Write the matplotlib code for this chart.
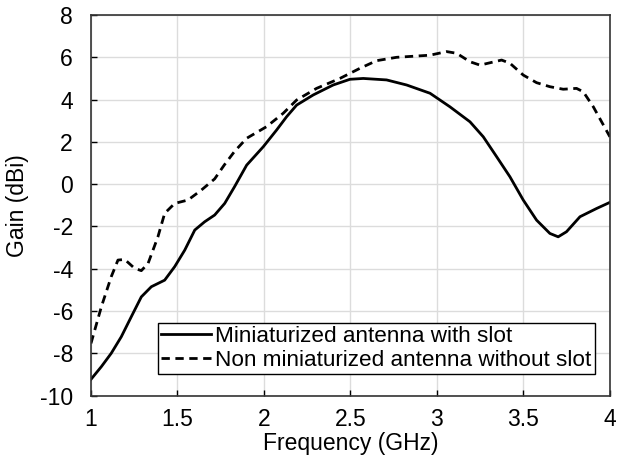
import numpy as np
import matplotlib.pyplot as plt

plt.rcParams['font.family'] = ['Liberation Sans', 'DejaVu Sans']
plt.rcParams['axes.unicode_minus'] = False

# solid: miniaturized antenna with slot
freq_slot = [1.0, 1.06, 1.117, 1.175, 1.233, 1.291, 1.349, 1.426, 1.484, 1.542, 1.6,
             1.657, 1.715, 1.773, 1.83, 1.9, 1.996, 2.073, 2.131, 2.189, 2.285, 2.4,
             2.497, 2.574, 2.709, 2.825, 2.96, 3.075, 3.191, 3.268, 3.345, 3.422,
             3.499, 3.576, 3.653, 3.701, 3.749, 3.827, 3.923, 4.0]
gain_slot = [-9.23, -8.63, -8.0, -7.22, -6.27, -5.33, -4.85, -4.54, -3.9, -3.12, -2.17,
             -1.78, -1.46, -0.91, -0.12, 0.9, 1.77, 2.56, 3.19, 3.74, 4.22, 4.69,
             4.96, 5.0, 4.93, 4.69, 4.3, 3.66, 2.95, 2.24, 1.3, 0.35,
             -0.75, -1.7, -2.33, -2.49, -2.25, -1.54, -1.15, -0.86]

# dashed: non miniaturized antenna without slot
freq_noslot = [1.0, 1.06, 1.117, 1.156, 1.195, 1.252, 1.291, 1.33, 1.387, 1.426, 1.484,
               1.561, 1.638, 1.715, 1.77, 1.83, 1.9, 2.015, 2.111, 2.189, 2.304, 2.439,
               2.555, 2.651, 2.767, 2.883, 2.96, 3.056, 3.114, 3.191, 3.249, 3.306,
               3.374, 3.422, 3.499, 3.576, 3.653, 3.73, 3.807, 3.846, 3.904, 3.952, 4.0]
gain_noslot = [-7.53, -5.8, -4.38, -3.59, -3.56, -3.98, -4.09, -3.75, -2.49, -1.38, -0.91,
               -0.75, -0.28, 0.25, 0.9, 1.55, 2.17, 2.72, 3.35, 3.98, 4.53, 5.0,
               5.48, 5.84, 6.0, 6.06, 6.1, 6.27, 6.19, 5.79, 5.63, 5.74,
               5.87, 5.72, 5.16, 4.8, 4.61, 4.49, 4.53, 4.37, 3.66, 2.95, 2.24]

fig = plt.figure(figsize=(6.34, 4.62), dpi=100)
ax = fig.add_axes([0.1435, 0.1437, 0.8185, 0.8238])

ax.plot(freq_slot, gain_slot, color='black', lw=2.0, solid_joinstyle='round',
        label='Miniaturized antenna with slot')
ax.plot(freq_noslot, gain_noslot, color='black', lw=2.0, linestyle=(0, (3, 2)),
        dash_joinstyle='round', label='Non miniaturized antenna without slot')

ax.set_xlim(1, 4)
ax.set_ylim(-10, 8)
ax.set_xticks([1, 1.5, 2, 2.5, 3, 3.5, 4])
ax.set_xticklabels(['1', '1.5', '2', '2.5', '3', '3.5', '4'])
ax.set_yticks(range(-10, 9, 2))
ax.grid(True, color='#dcdcdc', lw=1.0)
ax.set_axisbelow(True)
ax.tick_params(direction='in', length=4, labelsize=16.5, width=1)
ax.tick_params(axis='y', pad=13)
ax.tick_params(axis='x', pad=9)
for s in ax.spines.values():
    s.set_linewidth(1.2)
    s.set_color('#333333')

ax.set_xlabel('Frequency (GHz)', fontsize=16.5, labelpad=1)
ax.set_ylabel('Gain (dBi)', fontsize=16.5, labelpad=8)

leg = ax.legend(loc='lower left', bbox_to_anchor=(0.129, 0.057), fontsize=16.2,
                frameon=True, fancybox=False, edgecolor='black', framealpha=1,
                borderaxespad=0, handlelength=2.2, handletextpad=0.2,
                borderpad=0.15, labelspacing=0.1)
leg.get_frame().set_linewidth(1.0)

fig.savefig('out.png', dpi=100)
